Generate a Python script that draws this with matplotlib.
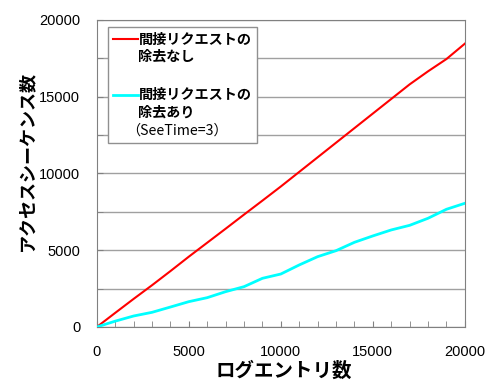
import matplotlib
matplotlib.use("Agg")
import matplotlib.pyplot as plt
from matplotlib.ticker import MultipleLocator
from matplotlib.lines import Line2D
from matplotlib.offsetbox import AnchoredOffsetbox, VPacker, HPacker, TextArea, DrawingArea

plt.rcParams['font.family'] = ['Noto Sans CJK JP', 'DejaVu Sans']

entries = [0, 1000, 2000, 3000, 4000, 5000, 6000, 7000, 8000, 9000, 10000,
           11000, 12000, 13000, 14000, 15000, 16000, 17000, 18000, 19000, 20000]
without_removal = [0, 920, 1830, 2720, 3640, 4580, 5490, 6400, 7320, 8230, 9150,
                   10100, 11050, 12000, 12950, 13900, 14850, 15800, 16650, 17450, 18450]
with_removal = [0, 380, 716, 955, 1300, 1650, 1910, 2300, 2626, 3170, 3450,
                4040, 4580, 4970, 5515, 5930, 6320, 6620, 7080, 7665, 8055]

label_off = '間接リクエストの\n除去なし'
label_on = '間接リクエストの\n除去あり'
label_note = '（SeeTime=3）'

RED = '#ff0000'
CYAN = '#00ffff'

fig = plt.figure(figsize=(4.94, 3.82), dpi=100)
ax = fig.add_axes([0.196, 0.144, 0.745, 0.804])

ax.plot(entries, without_removal, color=RED, lw=1.5, zorder=3)
ax.plot(entries, with_removal, color=CYAN, lw=2, zorder=3)

ax.set_xlim(0, 20000)
ax.set_ylim(0, 20000)
ax.xaxis.set_major_locator(MultipleLocator(5000))
ax.xaxis.set_minor_locator(MultipleLocator(1000))
ax.yaxis.set_major_locator(MultipleLocator(5000))
ax.yaxis.set_minor_locator(MultipleLocator(2500))
ax.grid(True, which='both', axis='y', color='#a0a0a0', lw=1)
ax.set_axisbelow(True)
ax.tick_params(which='both', direction='in', color='#808080', length=4)
ax.tick_params(axis='x', which='major', pad=13)
ax.tick_params(axis='y', which='major', pad=12)
for sp in ax.spines.values():
    sp.set_color('#808080')

for lbl in ax.get_xticklabels() + ax.get_yticklabels():
    lbl.set_family(['Liberation Sans', 'DejaVu Sans'])
    lbl.set_fontsize(10.5)

ax.set_xlabel('ログエントリ数', fontsize=14, fontweight='bold')
ax.set_ylabel('アクセスシーケンス数', fontsize=13, fontweight='bold')
ax.xaxis.set_label_coords(0.509, -0.113)
ax.yaxis.set_label_coords(-0.165, 0.539)


# legend built by hand so the note line can use a smaller font
def handle(color, lw):
    da = DrawingArea(18, 16, 0, 0)
    da.add_artist(Line2D([0, 18], [11, 11], color=color, lw=lw))
    return da


txt = dict(fontsize=10.2, fontweight='bold', linespacing=1.32)
row1 = HPacker(children=[handle(RED, 1.5), TextArea(label_off, textprops=txt)],
               align='top', pad=0, sep=0)
note = HPacker(children=[DrawingArea(0, 1, 0, 0),
                         TextArea(label_note, textprops=dict(fontsize=10.2))],
               align='center', pad=0, sep=-9)
block2 = VPacker(children=[TextArea(label_on, textprops=txt), note],
                 align='left', pad=0, sep=3)
row2 = HPacker(children=[handle(CYAN, 2), block2], align='top', pad=0, sep=0)
box = VPacker(children=[row1, row2], align='left', pad=0, sep=17)
leg = AnchoredOffsetbox(loc='upper left', child=box, pad=0.4, borderpad=0,
                        prop=dict(size=10), frameon=True,
                        bbox_to_anchor=(0.030, 0.977), bbox_transform=ax.transAxes)
leg.patch.set_boxstyle('square', pad=0)
leg.patch.set_edgecolor('#909090')
leg.patch.set_linewidth(1)
leg.set_zorder(5)
ax.add_artist(leg)

fig.savefig('out.png', dpi=100)
